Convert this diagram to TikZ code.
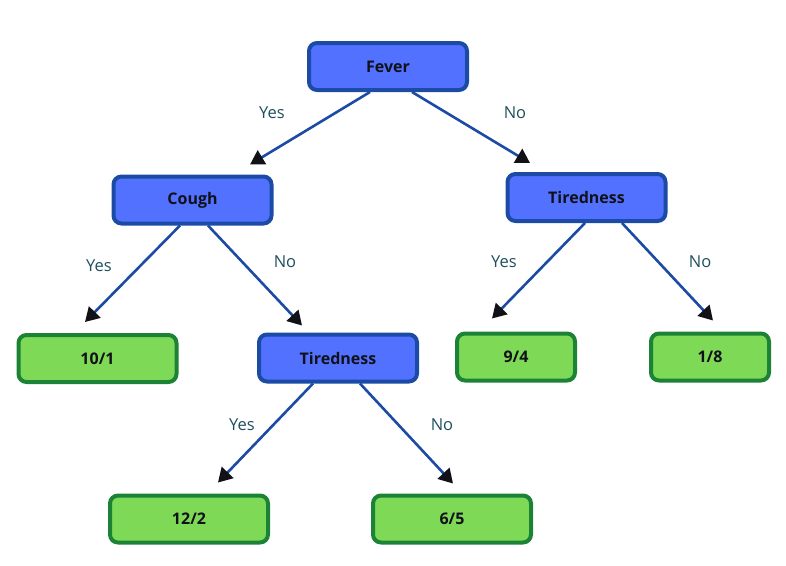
\documentclass[tikz,border=0pt]{standalone}
\usepackage{fontspec}
\setmainfont{Open Sans}
\usetikzlibrary{arrows.meta}
\definecolor{treeink}{HTML}{111118}
\definecolor{treeblue}{HTML}{5271FF}
\definecolor{treeblueline}{HTML}{1C4BA6}
\definecolor{treegreen}{HTML}{7ED957}
\definecolor{treegreenline}{HTML}{1C8236}
\definecolor{treelabel}{HTML}{1F4F5C}

\begin{document}
\begin{tikzpicture}[x=1pt,y=-1pt,line join=round,
  question/.style={draw=treeblueline,fill=treeblue,line width=4pt,rounded corners=8pt,
    minimum width=158pt,minimum height=47pt,inner sep=0pt,text=treeink,
    font=\fontsize{16}{19}\selectfont\bfseries},
  outcome/.style={question,draw=treegreenline,fill=treegreen},
  branch/.style={draw=treeblueline,line width=2.6pt,-{Triangle[length=14pt,width=16pt,fill=treeink,color=treeink]}},
  answer/.style={text=treelabel,font=\fontsize{16.5}{19}\selectfont}]
  \useasboundingbox (0,0) rectangle (786,565);
  % Knoten
  \node[question] (fever) at (388,66.5) {Fever};
  \node[question] (cough) at (192.5,200) {Cough};
  \node[question] (tiredR) at (586.5,197.5) {Tiredness};
  \node[outcome] (leafA) at (97.5,358.5) {10/1};
  \node[question] (tiredM) at (338,358) {Tiredness};
  \node[outcome,minimum width=118pt] (leafB) at (516,357) {9/4};
  \node[outcome,minimum width=118pt] (leafC) at (710,357) {1/8};
  \node[outcome] (leafD) at (189,519) {12/2};
  \node[outcome] (leafE) at (452,519) {6/5};
  % Zweige
  \draw[branch] ([xshift=-18pt]fever.south) -- ([xshift=57.5pt,yshift=10pt]cough.north);
  \draw[branch] ([xshift=24pt]fever.south) -- ([xshift=-56.5pt,yshift=9pt]tiredR.north);
  \draw[branch] ([xshift=-12.5pt]cough.south) -- ([xshift=-12.5pt,yshift=11pt]leafA.north);
  \draw[branch] ([xshift=15.5pt]cough.south) -- ([xshift=-36pt,yshift=7pt]tiredM.north);
  \draw[branch] ([xshift=-1.5pt]tiredR.south) -- ([xshift=-24pt,yshift=13pt]leafB.north);
  \draw[branch] ([xshift=35.5pt]tiredR.south) -- ([xshift=3pt,yshift=11pt]leafC.north);
  \draw[branch] ([xshift=-25pt]tiredM.south) -- ([xshift=29pt,yshift=11pt]leafD.north);
  \draw[branch] ([xshift=22pt]tiredM.south) -- ([xshift=1pt,yshift=10pt]leafE.north);
  % Beschriftungen
  \node[answer] (y1) at (272,113) {Yes};
  \node[answer] (n1) at (515,113) {No};
  \node[answer] (y2) at (99,266) {Yes};
  \node[answer] (n2) at (285,262) {No};
  \node[answer] (y3) at (504,262) {Yes};
  \node[answer] (n3) at (700,262) {No};
  \node[answer] (y4) at (242,425) {Yes};
  \node[answer] (n4) at (442,425) {No};
\end{tikzpicture}
\end{document}
